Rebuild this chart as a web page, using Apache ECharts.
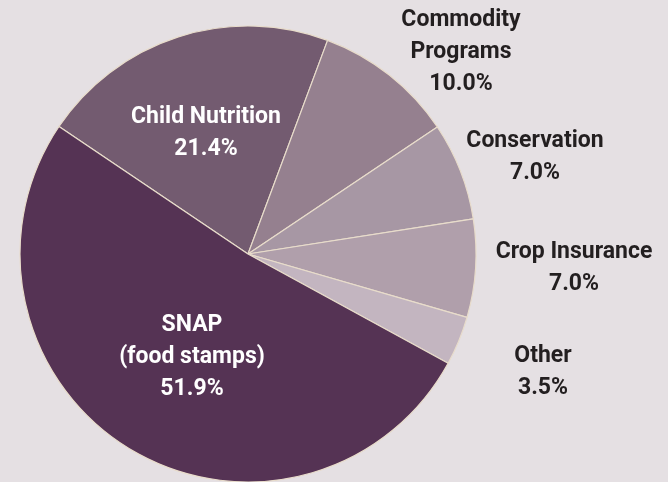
<!DOCTYPE html>
<html>
<head>
<meta charset="utf-8">
<script src="https://cdn.jsdelivr.net/npm/echarts@6/dist/echarts.min.js"></script>
<style>
html,body{margin:0;padding:0;background:#e5e0e3;}
#chart{width:668px;height:482px;}
</style>
</head>
<body>
<div id="chart"></div>
<script>
const categories = ['Child Nutrition', 'Commodity\nPrograms', 'Conservation', 'Crop Insurance', 'Other', 'SNAP\n(food stamps)'];
const values = [21.4, 10.0, 7.0, 7.0, 3.5, 51.9];
const sliceColors = ['#735b70', '#95808f', '#a797a4', '#b09fab', '#c3b5c0', '#553354'];
const insideLabel = [true, false, false, false, false, true];
// label block centres (layout only)
const labelPos = [[206,133],[461,52],[535,157],[574,268],[543,372],[192,357]];

const chart = echarts.init(document.getElementById('chart'), null, {renderer:'canvas'});
const data = categories.map((c,i)=>({
  name: c,
  value: values[i],
  itemStyle: {color: sliceColors[i]},
  label: {color: insideLabel[i] ? '#ffffff' : '#231f20'}
}));
chart.setOption({
  backgroundColor: '#e5e0e3',
  animation: false,
  series: [{
    type: 'pie',
    center: [248, 254],
    radius: 228,
    startAngle: 146,
    clockwise: true,
    data: data,
    itemStyle: {borderColor: '#e8dccb', borderWidth: 1.2},
    label: {
      show: true,
      position: 'inside',
      formatter: p => p.name + '\n' + p.value.toFixed(1) + '%',
      fontFamily: 'Roboto, sans-serif',
      fontWeight: 'bold',
      fontSize: 23,
      lineHeight: 32,
      align: 'center'
    },
    labelLine: {show: false},
    labelLayout: function (params) {
      const p = labelPos[params.dataIndex];
      return {x: p[0], y: p[1], align: 'center', verticalAlign: 'middle'};
    },
    emphasis: {disabled: true}
  }]
});
</script>
</body>
</html>
